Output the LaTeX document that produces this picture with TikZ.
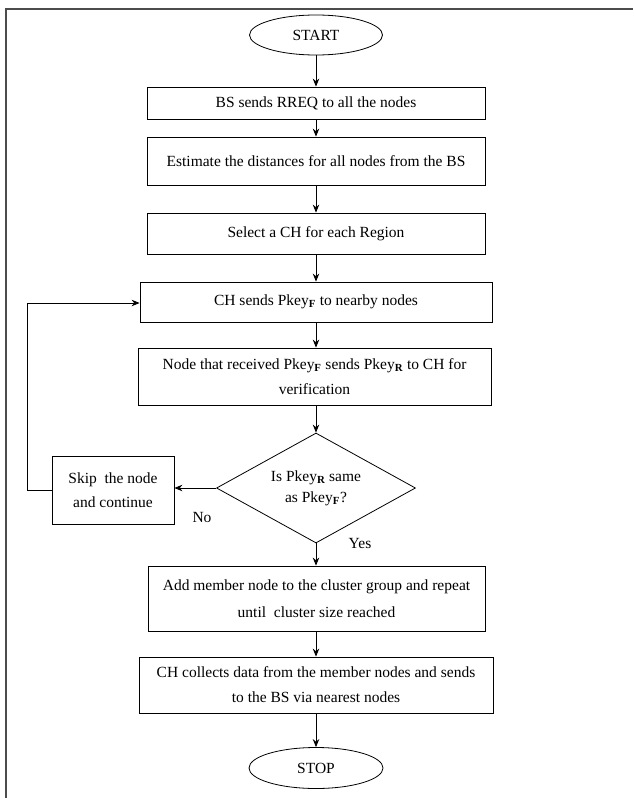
\documentclass[tikz,border=0pt]{standalone}
\usepackage{fontspec}
\setmainfont{Liberation Serif}
\usetikzlibrary{shapes.geometric,arrows.meta}
\newcommand{\subF}{\textsubscript{\bfseries F}}
\newcommand{\subR}{\textsubscript{\bfseries R}}
\begin{document}
\begin{tikzpicture}[x=1pt,y=-1pt,
  every node/.style={font=\fontsize{15.5}{25}\selectfont, inner sep=0pt, align=center},
  procbox/.style={draw, rectangle, line width=0.8pt},
  termnode/.style={draw, ellipse, line width=0.8pt},
  decnode/.style={draw, diamond, line width=0.8pt},
  conn/.style={draw, line width=0.8pt, -{Stealth[length=8pt,width=6.5pt]}},
  framecol/.style={draw=black!70, line width=1.5pt}]
\useasboundingbox (0,0) rectangle (633,798);
\draw[framecol] (6,798) -- (6,9) -- (633,9);
\node[termnode, minimum width=133pt, minimum height=40pt] (start) at (316,35) {START};
\node[procbox, minimum width=338pt, minimum height=32pt] (b1) at (316,103) {BS sends RREQ to all the nodes};
\node[procbox, minimum width=338pt, minimum height=48pt] (b2) at (316,161) {Estimate the distances for all nodes from the BS};
\node[procbox, minimum width=338pt, minimum height=41pt] (b3) at (316,233.5) {Select a CH for each Region};
\node[procbox, minimum width=352pt, minimum height=40pt] (b4) at (316,302) {CH sends Pkey\subF{} to nearby nodes};
\node[procbox, minimum width=353pt, minimum height=57pt] (b5) at (314.5,376.5) {Node that received Pkey\subF{} sends Pkey\subR{} to CH for\\verification};
\node[decnode, minimum width=199pt, minimum height=110pt, aspect=1.81, font=\fontsize{15.5}{21}\selectfont] (dec) at (316,488) {Is Pkey\subR{} same\\as Pkey\subF?};
\node[procbox, minimum width=122pt, minimum height=68pt, font=\fontsize{15.5}{24}\selectfont] (skip) at (113,490) {Skip\ \ the node\\and continue};
\node[procbox, minimum width=337pt, minimum height=65pt, font=\fontsize{15.5}{27}\selectfont] (b6) at (316.5,598.5) {Add member node to the cluster group and repeat\\until\ \ cluster size reached};
\node[procbox, minimum width=354pt, minimum height=56pt] (b7) at (316,685) {CH collects data from the member nodes and sends\\to the BS via nearest nodes};
\node[termnode, minimum width=134pt, minimum height=41pt] (stop) at (316,768) {STOP};
\coordinate (lb) at (27,490);
\coordinate (lt) at (27,303);
\draw[conn] (start) -- (b1);
\draw[conn] (b1) -- (b2);
\draw[conn] (b2) -- (b3);
\draw[conn] (b3) -- (b4);
\draw[conn] (b4) -- (b4 |- b5.north);
\draw[conn] (b5.south -| dec.north) -- (dec.north);
\draw[conn] (dec.west) -- (dec.west -| skip.east);
\draw[conn] (dec.south) -- (dec.south |- b6.north);
\draw[conn] (b6.south -| b7.north) -- (b7.north);
\draw[conn] (b7) -- (stop);
\draw[conn] (skip.west) -- (lb) -- (lt) -- (b4.west |- lt);
\node (no) at (202,517) {No};
\node (yes) at (360,543) {Yes};
\end{tikzpicture}
\end{document}
